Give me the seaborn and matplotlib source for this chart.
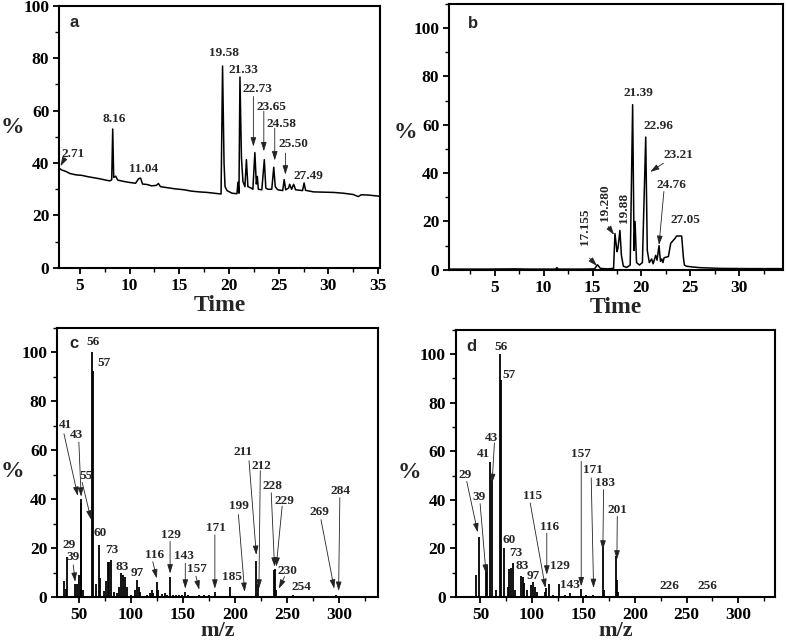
import numpy as np
import matplotlib
matplotlib.use("Agg")
import matplotlib.pyplot as plt
import seaborn as sns
from matplotlib.ticker import MultipleLocator

# ---- panel a: chromatogram (time, %)
time_a = [2.9, 3.2, 3.6, 4.0, 4.6, 5.2, 5.8, 6.4, 7.0, 7.6, 8.0, 8.2, 8.3, 8.4, 8.6, 8.8,
          9.4, 10.0, 10.6, 10.9, 11.1, 11.3, 11.8, 12.2, 12.7, 12.9, 13.1, 13.8, 14.5, 15.0,
          15.5, 16.2, 17.0, 17.8, 18.5, 19.2, 19.35, 19.5, 19.6, 19.8, 20.3, 20.8, 20.9, 21.0,
          21.1, 21.25, 21.4, 21.6, 21.75, 21.9, 22.2, 22.4, 22.6, 22.75, 22.85, 22.95, 23.3,
          23.55, 23.7, 23.9, 24.3, 24.5, 24.65, 24.9, 25.4, 25.55, 25.7, 26.0, 26.1, 26.3,
          26.5, 26.7, 27.4, 27.55, 27.7, 28.5, 29.5, 30.5, 31.5, 32.5, 33.0, 33.3, 34.0, 35.0, 35.2]
pct_a = [38.0, 37.3, 36.8, 36.0, 35.5, 35.3, 34.8, 34.4, 34.0, 33.5, 33.2, 33.6, 53.0, 34.5, 35.0, 33.5,
         33.0, 32.6, 32.3, 34.0, 34.3, 32.0, 31.8, 31.3, 31.5, 32.2, 31.0, 30.6, 30.2, 30.0,
         29.8, 29.3, 29.0, 28.8, 28.5, 28.2, 77.0, 40.0, 31.0, 29.5, 28.5, 28.3, 32.7, 28.5,
         72.8, 42.0, 33.0, 31.0, 41.3, 31.0, 30.5, 30.0, 44.0, 32.0, 34.9, 30.0, 29.8,
         41.3, 30.5, 30.0, 30.0, 38.4, 31.0, 29.8, 29.5, 33.7, 29.8, 30.5, 31.9, 30.0,
         31.9, 29.8, 29.5, 32.4, 29.6, 29.0, 28.9, 28.8, 28.5, 28.0, 27.2, 27.9, 27.8, 27.4, 27.3]
labels_a = [("2.71", 4.3, 43.3), ("8.16", 8.46, 57.0), ("11.04", 11.4, 37.9), ("19.58", 19.5, 82.0),
            ("21.33", 21.5, 75.4), ("22.73", 22.9, 68.4), ("23.65", 24.3, 61.5), ("24.58", 25.3, 54.8),
            ("25.50", 26.5, 47.2), ("27.49", 28.0, 35.0)]
arrows_a = [((3.5, 42.0), (3.05, 38.8)), ((22.45, 65.4), (22.45, 46.3)), ((23.5, 59.8), (23.5, 44.5)),
            ((24.6, 53.3), (24.6, 41.0)), ((25.67, 43.8), (25.67, 35.6))]

# ---- panel b: chromatogram (time, %)
time_b = [0.3, 4.0, 7.0, 8.5, 11.2, 11.35, 11.5, 14.0, 15.2, 15.5, 15.8, 16.5, 17.15, 17.29,
          17.5, 17.6, 17.8, 17.95, 18.15, 18.5, 18.85, 19.1, 19.25, 19.35, 19.5, 19.8, 20.1,
          20.44, 20.6, 20.81, 21.05, 21.2, 21.46, 21.6, 21.8, 21.95, 22.08, 22.2, 22.32, 22.76,
          23.0, 23.44, 23.6, 24.12, 24.3, 24.4, 24.6, 25.2, 26.0, 28.0, 31.0, 34.5]
pct_b = [0.3, 0.3, 0.4, 0.3, 0.3, 0.9, 0.3, 0.3, 0.4, 2.1, 0.6, 0.4, 0.6, 15.0,
         7.5, 9.0, 16.3, 6.0, 1.5, 1.0, 2.0, 68.3, 8.0, 20.0, 3.0, 2.0, 3.0,
         54.9, 8.0, 3.0, 4.5, 2.5, 6.0, 4.0, 10.0, 3.5, 4.5, 3.0, 5.0, 5.5,
         11.0, 13.0, 14.0, 14.0, 5.0, 2.0, 1.5, 1.2, 0.9, 0.6, 0.5, 0.5]
labels_b = [("17.155", 14.2, 17.9, 90), ("19.280", 16.3, 27.6, 90), ("19.88", 18.25, 25.5, 90),
            ("21.39", 19.7, 73.1, 0), ("22.96", 21.7, 59.3, 0), ("23.21", 23.8, 47.6, 0),
            ("24.76", 23.1, 35.2, 0), ("27.05", 24.5, 20.7, 0)]
arrows_b = [((14.7, 4.8), (15.45, 1.6)), ((16.6, 17.9), (17.2, 14.5)),
            ((22.25, 44.1), (20.9, 40.5)), ((22.3, 32.4), (21.8, 10.3))]

# ---- panel c: mass spectrum (m/z, %)
mz_c = [35.7, 37.3, 38.9, 46.5, 48.4, 50.6, 51.6, 52.5, 54.1, 62.7, 63.7, 66.9, 69.1, 70.7,
        74.5, 76.1, 77.7, 79.3, 81.2, 83.5, 86.5, 88.2, 90.8, 92.4, 94.0, 96.2, 100.5, 104.1,
        105.7, 107.3, 108.9, 115.0, 118.0, 120.0, 121.5, 124.8, 126.4, 130.0, 132.8, 135.0,
        137.6, 140.0, 143.0, 146.0, 149.0, 151.9, 155.0, 160.0, 165.6, 170.0, 175.0, 178.0,
        180.6, 185.0, 190.0, 194.9, 205.0, 209.2, 220.4, 222.0, 237.0, 238.2, 239.5, 255.4,
        280.9, 296.8]
int_c = [6.6, 3.4, 16.5, 5.5, 5.5, 9.0, 39.9, 38.5, 3.0, 100.0, 92.2, 5.5, 21.3, 7.9,
         2.5, 6.5, 14.5, 14.5, 15.0, 2.0, 1.5, 4.0, 9.6, 9.0, 8.0, 4.0, 1.0, 3.0,
         7.0, 4.0, 2.0, 1.0, 1.5, 3.0, 1.5, 6.2, 3.0, 1.2, 1.5, 0.8,
         8.3, 1.0, 0.8, 1.0, 0.8, 2.0, 0.8, 0.6, 1.0, 0.8, 0.8, 0.6,
         2.0, 0.6, 0.5, 4.1, 0.5, 0.6, 14.9, 5.5, 11.0, 11.3, 2.8, 1.0,
         0.5, 0.8]
labels_c = [("56", 63.7, 104.3), ("57", 73.9, 95.6), ("41", 37.3, 70.2), ("43", 47.8, 66.0),
            ("55", 56.4, 49.5), ("29", 40.4, 21.3), ("39", 44.6, 16.2), ("60", 70.7, 26.1),
            ("73", 81.8, 19.3), ("83", 91.4, 12.4), ("97", 105.7, 9.6), ("116", 122.3, 17.2),
            ("129", 138.2, 25.4), ("143", 151.3, 16.8), ("157", 163.0, 11.3), ("171", 181.5, 28.2),
            ("185", 197.5, 8.0), ("199", 203.8, 37.1), ("211", 207.6, 59.1), ("212", 225.2, 53.6),
            ("228", 236.3, 45.4), ("229", 247.5, 39.2), ("230", 250.6, 10.7), ("254", 263.4, 4.1),
            ("269", 280.9, 34.7), ("284", 301.0, 43.3)]
arrows_c = [((35.7, 66.7), (49.0, 41.3)), ((50.0, 63.3), (52.2, 41.0)), ((53.2, 46.8), (61.8, 31.6)),
            ((44.6, 13.1), (46.5, 6.2)), ((121.0, 14.4), (124.8, 7.6)), ((137.6, 22.7), (137.6, 9.6)),
            ((152.2, 13.8), (152.2, 3.4)), ((162.4, 8.5), (165.6, 3.0)), ((180.6, 25.4), (180.6, 3.4)),
            ((203.2, 33.7), (209.2, 2.1)), ((213.4, 55.7), (220.4, 17.2)), ((224.2, 51.6), (222.9, 3.4)),
            ((234.7, 42.6), (237.9, 12.4)), ((245.2, 37.1), (239.5, 12.4)), ((247.5, 8.3), (242.0, 3.4)),
            ((282.5, 31.6), (295.2, 3.4)), ((300.6, 40.6), (299.4, 2.5))]

# ---- panel d: mass spectrum (m/z, %)
mz_d = [45.8, 48.4, 55.5, 56.5, 59.4, 61.3, 65.2, 69.1, 70.1, 72.7, 76.6, 78.2, 80.1, 82.1,
        84.0, 89.5, 91.1, 92.7, 95.0, 99.2, 100.8, 102.5, 104.7, 112.2, 113.8, 116.4, 120.0,
        126.1, 131.6, 136.5, 147.8, 152.0, 159.1, 163.0, 168.8, 169.8, 181.8, 182.4, 183.7,
        233.6, 264.4]
int_d = [9.2, 24.7, 12.6, 12.6, 55.4, 48.3, 3.0, 100.0, 89.4, 20.2, 4.0, 11.5, 12.0, 14.0,
         3.0, 8.5, 8.2, 5.8, 3.0, 5.1, 6.0, 4.0, 2.0, 2.0, 3.8, 5.5, 1.0,
         5.5, 1.0, 1.5, 3.4, 0.8, 1.0, 0.6, 20.9, 3.0, 16.7, 7.1, 2.0,
         0.3, 0.3]
labels_d = [("56", 70.1, 102.9), ("57", 77.5, 91.5), ("43", 60.4, 65.4), ("41", 52.9, 59.0),
            ("29", 35.4, 50.3), ("39", 48.4, 41.2), ("60", 77.5, 23.3), ("73", 84.0, 18.1),
            ("83", 90.5, 12.9), ("97", 100.8, 8.5), ("115", 100.2, 41.4), ("116", 117.0, 28.8),
            ("129", 127.4, 12.9), ("143", 136.5, 5.1), ("157", 147.1, 59.0), ("171", 159.1, 52.4),
            ("183", 170.5, 46.9), ("201", 182.8, 35.9), ("226", 233.0, 4.4), ("256", 270.2, 4.4)]
arrows_d = [((63.6, 63.4), (61.3, 46.9)), ((36.7, 47.6), (47.4, 26.6)), ((49.7, 38.4), (55.5, 9.6)),
            ((98.3, 38.7), (113.1, 3.7)), ((114.4, 26.3), (114.4, 9.2)), ((147.8, 55.8), (147.8, 4.4)),
            ((157.5, 49.0), (159.8, 3.7)), ((169.5, 44.2), (168.8, 19.5)), ((182.8, 33.2), (182.4, 15.4))]

sns.set_theme(style="ticks")
plt.rcParams['font.family'] = ['Liberation Serif', 'DejaVu Serif']
plt.rcParams['font.weight'] = 'bold'
plt.rcParams['axes.labelweight'] = 'bold'
plt.rcParams['axes.linewidth'] = 1.5
plt.rcParams['axes.edgecolor'] = 'black'
for ax_ in ['xtick', 'ytick']:
    plt.rcParams[ax_ + '.direction'] = 'out'
    plt.rcParams[ax_ + '.major.size'] = 4.5
    plt.rcParams[ax_ + '.major.width'] = 1.3
    plt.rcParams[ax_ + '.minor.size'] = 3
    plt.rcParams[ax_ + '.minor.width'] = 1.0
    plt.rcParams[ax_ + '.color'] = 'black'
    plt.rcParams[ax_ + '.labelsize'] = 12.5
    plt.rcParams[ax_ + '.major.pad'] = 2.5
    plt.rcParams[ax_ + '.minor.visible'] = True

fig = plt.figure(figsize=(7.87, 6.44), dpi=100)
ax_a = fig.add_axes([0.075, 0.584, 0.408, 0.407])
ax_b = fig.add_axes([0.5705, 0.581, 0.4245, 0.413])
ax_c = fig.add_axes([0.0724, 0.073, 0.4076, 0.418])
ax_d = fig.add_axes([0.579, 0.073, 0.406, 0.415])

sns.lineplot(x=time_a, y=pct_a, sort=False, estimator=None, color='black', lw=1.1, ax=ax_a)
sns.lineplot(x=time_b, y=pct_b, sort=False, estimator=None, color='black', lw=1.1, ax=ax_b)
ax_c.vlines(mz_c, 0, int_c, color='black', lw=1.3)
ax_d.vlines(mz_d, 0, int_d, color='black', lw=1.3)

arrow_kw = dict(arrowstyle='-|>,head_length=0.45,head_width=0.14', color='#222222',
                lw=0.6, shrinkA=0, shrinkB=0)


def decorate(ax, labels, arrows, letter, letter_xy):
    for item in labels:
        rot = item[3] if len(item) > 3 else 0
        ax.text(item[1], item[2], item[0], ha='center', va='center', rotation=rot,
                fontsize=9.5, fontweight='bold')
    for start, end in arrows:
        ax.annotate('', xy=end, xytext=start, arrowprops=arrow_kw)
    ax.text(letter_xy[0], letter_xy[1], letter, ha='center', va='center',
            fontsize=12, fontweight='bold', family='Liberation Sans')
    for s in ax.spines.values():
        s.set_visible(True)
        s.set_linewidth(1.5)
    ax.tick_params(which='both', top=False, right=False)


decorate(ax_a, labels_a, arrows_a, 'a', (4.4, 93.6))
decorate(ax_b, labels_b, arrows_b, 'b', (2.8, 102))
decorate(ax_c, labels_c, arrows_c, 'c', (45.2, 103.4))
decorate(ax_d, labels_d, arrows_d, 'd', (40.9, 102.9))

ax_a.set_xlim(2.9, 35.2)
ax_a.set_ylim(0, 100)
ax_b.set_xlim(0.3, 34.5)
ax_b.set_ylim(0, 110)
ax_c.set_xlim(29, 337)
ax_c.set_ylim(0, 110)
ax_d.set_xlim(26, 336)
ax_d.set_ylim(0, 110)

for ax in [ax_a, ax_b]:
    ax.xaxis.set_major_locator(MultipleLocator(5))
    ax.xaxis.set_minor_locator(MultipleLocator(2.5))
    ax.set_xlabel('Time', fontsize=17, labelpad=1)
for ax in [ax_c, ax_d]:
    ax.xaxis.set_major_locator(MultipleLocator(50))
    ax.xaxis.set_minor_locator(MultipleLocator(25))
    ax.set_xlabel('m/z', fontsize=16, labelpad=-1)
for ax in [ax_a, ax_b, ax_c, ax_d]:
    ax.yaxis.set_major_locator(MultipleLocator(20))
    ax.yaxis.set_minor_locator(MultipleLocator(10))
    ax.set_ylabel('%', fontsize=17, rotation=0, va='center', ha='center')
    for lab in ax.get_xticklabels() + ax.get_yticklabels():
        lab.set_fontweight('bold')

ax_a.yaxis.set_label_coords(-0.145, 0.534)
ax_b.yaxis.set_label_coords(-0.13, 0.515)
ax_c.yaxis.set_label_coords(-0.14, 0.465)
ax_d.yaxis.set_label_coords(-0.144, 0.464)

fig.savefig('out.png', dpi=100, facecolor='white')
